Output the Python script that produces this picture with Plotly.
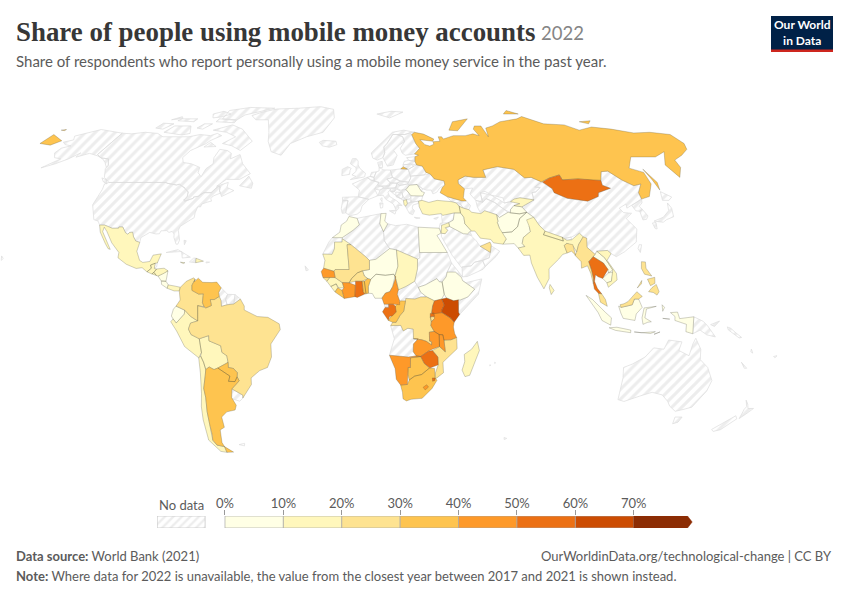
import numpy as np
import plotly.graph_objects as go

# share of respondents per country (%), None = no data
SHARES = {
    "Russia": 35, "Mongolia": 55, "Kenya": 65, "Uganda": 55, "Tanzania": 45, "Rwanda": 50, "Burundi": 25,
    "DR Congo": 25, "Congo": 35, "Gabon": 55, "Cameroon": 45, "Nigeria": 5, "Niger": 5, "Chad": 15,
    "Mali": 25, "Mauritania": 15, "Senegal": 45, "Gambia": 5, "Guinea": 15, "Guinea-Bissau": 25,
    "Sierra Leone": 15, "Liberia": 35, "Ivory Coast": 45, "Burkina Faso": 25, "Ghana": 55, "Togo": 35,
    "Benin": 35, "Morocco": 5, "Tunisia": 5, "Egypt": 5, "South Sudan": 5, "Ethiopia": 5, "Zambia": 45,
    "Malawi": 45, "Mozambique": 25, "Zimbabwe": 55, "Namibia": 45, "Botswana": 35, "South Africa": 35,
    "Lesotho": 45, "Eswatini": 55, "Madagascar": 15, "Mexico": 15, "Guatemala": 15, "Honduras": 15,
    "El Salvador": 15, "Nicaragua": 5, "Costa Rica": 5, "Panama": 15, "Dominican Republic": 15,
    "Jamaica": 15, "Colombia": 25, "Venezuela": 35, "Ecuador": 5, "Peru": 15, "Brazil": 25, "Bolivia": 15,
    "Paraguay": 35, "Chile": 15, "Argentina": 35, "Romania": 5, "Albania": 15, "Turkey": 15, "Jordan": 15,
    "Iraq": 5, "Iran": 15, "UAE": 25, "Kyrgyzstan": 15, "Tajikistan": 5, "Afghanistan": 5, "Pakistan": 5,
    "India": 15, "Nepal": 15, "Bangladesh": 25, "Sri Lanka": 15, "Myanmar": 25, "Thailand": 55, "Laos": 5,
    "Cambodia": 5, "Vietnam": 15, "Malaysia": 25, "Indonesia": 5, "Philippines": 25, "Timor-Leste": 15,
}

BIN_EDGES = [10, 20, 30, 40, 50, 60, 70]
BIN_COLORS = ["#ffffe5", "#fff7bc", "#fee391", "#fec44f", "#fe9929", "#ec7014", "#cc4c02", "#8c2d04"]
LEGEND_TICKS = [0, 10, 20, 30, 40, 50, 60, 70]

# simplified outlines, (lon, lat)
OUTLINES = {
    "USA": [
        [(-124.7,48.4),(-123,49),(-95.2,49),(-94.6,48.7),(-92,48.3),(-89.6,48),(-88.4,48.3),(-84.9,46.9),(-84.5,46.5),(-83.5,45.8),(-82.5,45.3),(-82.1,43.6),(-82.5,42.6),(-83.1,42.1),(-82.4,41.7),(-79,42.8),(-79,43.3),(-76.8,43.6),(-76.3,44.2),(-75,45),(-71.5,45),(-70.8,45.4),(-70,46.7),(-69.2,47.4),(-68.2,47.3),(-67.8,45.7),(-67,44.8),(-70,43.7),(-70.7,42.7),(-70,41.7),(-71.5,41.4),(-74,40.6),(-74.2,39.5),(-75.5,39.5),(-75.9,37.2),(-75.7,35.3),(-77,34.6),(-79,33.4),(-81,32),(-81.4,30.5),(-80.5,28.3),(-80,26.8),(-80.4,25.2),(-81.2,25.2),(-82.7,27.8),(-82.9,29.1),(-84,30.1),(-85.3,29.7),(-86.5,30.4),(-89,30.3),(-89.4,29.2),(-90.9,29.1),(-93.8,29.7),(-95,29),(-97.2,27.7),(-97.2,25.9),(-99.1,26.4),(-100.5,28),(-101.4,29.8),(-102.7,29.7),(-103.3,29),(-104.5,29.6),(-106.5,31.8),(-108.2,31.8),(-108.2,31.3),(-111,31.3),(-114.8,32.5),(-117.1,32.5),(-118.4,34),(-120.6,34.6),(-122,36.9),(-123.8,39.5),(-124.3,40.3),(-124.1,43),(-124,46.3)],
        [(-168,65.6),(-164,66.6),(-166.5,68.3),(-163,69.5),(-156.6,71.3),(-141,69.6),(-141,60.3),(-137.5,58.9),(-133,58.5),(-130,55.9),(-130,55),(-133,57),(-136,58.5),(-140,59.7),(-146,60.8),(-151,59.2),(-151,61),(-154,58.5),(-158,56.5),(-163,54.8),(-158,58.5),(-162,59),(-165,61),(-164.7,63),(-161,64),(-165,64.5)],
        [(-156,20.7),(-155,19.7),(-155.7,19)],
    ],
    "Canada": [
        [(-141,69.6),(-135,69.3),(-128,70),(-120,69.5),(-115,68),(-108,68),(-100,68),(-94.5,69),(-88,68.5),(-85,69.5),(-81.5,68.5),(-86,66.3),(-87,65),(-93,62),(-94.5,59),(-92.5,57),(-88,56.5),(-82.5,55),(-82,52.9),(-79.5,51.3),(-79,54.5),(-76.7,56.5),(-78,59),(-77.5,62.5),(-73,62),(-70,60.8),(-69,58.5),(-65,60.3),(-61.5,56.5),(-55.7,52.5),(-60,50.2),(-66.5,50.2),(-70,47.5),(-65,49),(-64.8,47),(-61,45.8),(-66,43.5),(-67,44.8),(-67.8,45.7),(-68.2,47.3),(-69.2,47.4),(-70,46.7),(-70.8,45.4),(-71.5,45),(-75,45),(-76.3,44.2),(-76.8,43.6),(-79,43.3),(-79,42.8),(-82.4,41.7),(-83.1,42.1),(-82.5,42.6),(-82.1,43.6),(-82.5,45.3),(-83.5,45.8),(-84.5,46.5),(-84.9,46.9),(-88.4,48.3),(-89.6,48),(-92,48.3),(-94.6,48.7),(-95.2,49),(-123,49),(-127,51),(-130,54.5),(-130,55.9),(-133,58.5),(-137.5,58.9),(-141,60.3)],
        [(-62,66),(-66,62),(-72,64),(-78,65),(-73,68),(-80,70),(-89,71),(-80,73.5),(-72,71.5)],
        [(-117,70),(-105,68.8),(-101,69.5),(-105,73),(-115,73)],
        [(-90,76.5),(-80,76),(-78,78.5),(-65,81.5),(-62,82.5),(-80,83),(-92,81)],
        [(-125,72),(-120,71.5),(-117,74),(-124,74.3)],
        [(-92,75),(-80,74.5),(-80,75.7),(-92,76.5)],
        [(-117,75.5),(-106,75),(-106,76.5),(-116,76.5)],
        [(-100,72),(-96,71.5),(-93,74),(-98,74)],
        [(-97,77),(-92,77.5),(-88,79),(-95,80.5),(-100,79)],
        [(-122,76),(-116,76.7),(-118,77.6)],
        [(-59,47.7),(-53,46.7),(-53,48.7),(-56,51.5)],
        [(-128,50.8),(-125,50),(-123.5,48.4),(-126,49.3)],
        [(-87,63.5),(-80.5,63.7),(-85,65.5)],
    ],
    "Greenland": [[(-73,78.2),(-68,80),(-60,82),(-45,82.5),(-30,83.5),(-20,81.8),(-18,77),(-20,74),(-23,70),(-32,68),(-40,65),(-43,60),(-49,61.5),(-53,66),(-55,70),(-60,76),(-68,76)]],
    "Iceland": [[(-24,65.5),(-22,64),(-18,63.4),(-14,64.5),(-14.7,66),(-18,66.2),(-22,66.4)]],
    "Cuba": [[(-85,22),(-80,23.1),(-74.2,20.2),(-77.7,19.9),(-78.3,22.4)]],
    "Haiti": [[(-74.4,18.4),(-72.7,19.9),(-71.7,19.8),(-71.7,18.1)]],
    "Puerto Rico": [[(-67.2,18.4),(-65.7,18.3),(-67.2,18)]],
    "Belize": [[(-89.1,17.9),(-88.2,18.4),(-88.3,16.5),(-89.2,15.9)]],
    "Guyana": [[(-60,8.5),(-57.2,6),(-58,4),(-57.3,2),(-59.7,1.4),(-59.9,3.6),(-60.7,5.2),(-61,6.7)]],
    "Suriname": [[(-57.2,6),(-54,5.9),(-54.5,2.3),(-57.3,2),(-58,4)]],
    "French Guiana": [[(-54,5.9),(-51.7,4.2),(-54.5,2.3)]],
    "Uruguay": [[(-57.6,-30.2),(-53.2,-32.6),(-53.4,-33.7),(-55,-34.9),(-58.4,-34),(-58.4,-33.5)]],
    "Falklands": [[(-61,-51.8),(-58,-51.3),(-58.5,-52.3)]],
    "Spain": [[(-9.2,43.2),(-1.8,43.4),(3.2,42.4),(0,39.8),(-0.7,37.7),(-2.2,36.7),(-5.4,36.1),(-7.4,37.2),(-7,39.6),(-6.5,41.9),(-9,41.9)]],
    "Portugal": [[(-9,41.9),(-6.5,41.9),(-7,39.6),(-7.4,37.2),(-9,37),(-9.5,38.8)]],
    "France": [[(-1.8,43.4),(3.2,42.4),(7.5,43.8),(6,46.4),(8.2,49),(4.2,50),(2.5,51),(-1.5,49.5),(-4.7,48.4),(-1.2,46)],[(8.6,42.6),(9.4,43),(9.3,41.5)]],
    "UK": [[(-5.7,50.1),(1.3,51.2),(1.7,52.7),(-1,54.5),(-2,56),(-2,57.6),(-3,58.6),(-5,58.6),(-6,56.5),(-3,54.9),(-3,53.4),(-5,52),(-3,51.4)]],
    "Ireland": [[(-10,51.7),(-6.2,52.2),(-6,53.8),(-5.5,54.6),(-7.3,55.3),(-10,54.2)]],
    "Belgium": [[(2.5,51),(4.2,50),(6,49.5),(6.1,50.5),(5.9,51),(4,51.4)]],
    "Netherlands": [[(4,51.4),(5.9,51),(7.1,53.2),(4.8,53)]],
    "Germany": [[(5.9,51),(6.1,50.5),(6,49.5),(8.2,49),(7.6,47.6),(13,47.6),(13.8,48.8),(12.2,50.3),(15,51),(14.3,53.9),(11,54),(9.5,54.8),(8.7,54.9),(8.6,53.6),(7.1,53.2)]],
    "Switzerland": [[(6,46.4),(7.6,47.6),(9.6,47.5),(10.4,46.8),(8.6,46)]],
    "Austria": [[(9.6,47.5),(13,47.6),(13.8,48.8),(17,48.7),(16.2,46.9),(10.4,46.8)]],
    "Italy": [[(7.5,43.8),(8.6,46),(10.4,46.8),(13.7,46.5),(12.3,45),(13,43.5),(16,41.9),(18.5,40),(16.5,40),(17,39),(15.7,38),(14.5,40.6),(11,42.5),(10,44)],[(12.5,38),(15.6,38.2),(15,36.7)],[(8.2,41),(9.7,41),(9.5,39.2),(8.5,39)]],
    "Denmark": [[(8.1,57),(10.5,57.5),(10.5,55),(8.7,54.9)]],
    "Norway": [[(5,61),(5.7,58.8),(8,58),(11,59),(12.2,61),(12,63.5),(14,65),(18,69),(25,69),(28.5,69.8),(31,70),(25,71),(18,70),(12,66),(8,63.5)],[(10,79),(20,80.5),(28,80),(18,77)]],
    "Sweden": [[(11,59),(13,55.5),(16,56),(18.7,60),(17.2,62),(21,64.5),(24,65.8),(23.5,68),(20.5,69),(18,69),(14,65),(12,63.5),(12.2,61)]],
    "Finland": [[(20.5,69),(23.5,68),(24,65.8),(21,63),(21.5,61),(23,60),(28,60.5),(31.5,62.9),(30,65),(29,69),(28.5,69.8),(25,69)]],
    "Poland": [[(14.3,53.9),(15,51),(18.8,49.5),(22.7,49.1),(24,50.8),(23.6,52.6),(23.4,54.2),(19.6,54.4)]],
    "Czechia": [[(12.2,50.3),(13.8,48.8),(17,48.7),(18.8,49.5),(15,51)]],
    "Slovakia": [[(17,48.7),(18.8,49.5),(22.5,49.1),(22.1,48.4),(18,47.8)]],
    "Hungary": [[(16.2,46.9),(17,48.7),(18,47.8),(22.1,48.4),(22.9,47.9),(21,46.2),(18.5,45.9),(16.5,46.5)]],
    "Slovenia": [[(13.7,46.5),(16.2,46.9),(15.5,45.5),(13.6,45.5)]],
    "Croatia": [[(13.6,45.5),(15.5,45.5),(16.5,46.5),(19,45.2),(16,43.5),(18.5,42.5),(15,44.5)]],
    "Bosnia": [[(16,45.2),(19,45),(19.2,43.5),(18.5,42.6),(16,43.5)]],
    "Serbia": [[(19,46.1),(21,46.2),(22.5,44.5),(22.8,42.8),(20.7,42.3),(19.2,43.5),(19,45)]],
    "Montenegro": [[(18.5,42.5),(19.2,43.5),(20,42.8),(19.3,41.9)]],
    "Albania": [[(19.3,41.9),(20.7,42.3),(21,40.7),(20,39.7),(19.4,40.4)]],
    "North Macedonia": [[(20.7,42.3),(22.8,42.2),(22.8,41.3),(21,40.9)]],
    "Greece": [[(21,40.7),(22.8,41.3),(26.3,41.7),(26,40.8),(23.5,40.2),(23,39),(24,38),(23,36.5),(21.5,37),(20,39.7)],[(23.6,35.5),(26.2,35.2),(24.5,35)]],
    "Bulgaria": [[(23,43.8),(28.6,43.7),(27.7,42),(26.3,41.7),(22.8,41.3),(22.8,42.8)]],
    "Romania": [[(22.9,47.9),(26.6,48.2),(28.2,45.5),(29.6,45),(28.6,43.7),(23,43.8),(22.5,44.5),(21,46.2)]],
    "Moldova": [[(26.6,48.2),(29,46.5),(28.2,45.5)]],
    "Ukraine": [[(24,50.8),(22.7,49.1),(22.1,48.4),(22.9,47.9),(26.6,48.2),(29,46.5),(30.8,46),(33,46),(33.5,44.5),(35.5,45.2),(37.5,47),(40,48),(40,49.6),(35.5,50.4),(34,52.3),(31,52),(24,51.5)]],
    "Belarus": [[(23.4,54.2),(23.6,52.6),(24,51.5),(31,52),(32,53),(30.8,55.5),(28,56),(26.5,55.5)]],
    "Lithuania": [[(21,56),(21,55.3),(23.4,54.2),(26.5,55.5),(25,56.4)]],
    "Latvia": [[(21,56),(25,56.4),(28,56),(27.5,57.5),(24.4,57.9),(22,57.5)]],
    "Estonia": [[(23.5,59),(28,59.4),(27.5,57.5),(24.4,57.9)]],
    "Georgia": [[(40,43.4),(46.5,41.8),(43.7,41),(41.5,41.5)]],
    "Armenia": [[(43.7,41),(45.2,41),(46.5,39),(44.7,39.7)]],
    "Azerbaijan": [[(45.2,41),(46.5,41.8),(48.5,41.8),(50,40),(48.9,38.4),(46.5,39)]],
    "Cyprus": [[(32.3,35),(34.5,35.6),(33.5,34.7)]],
    "Syria": [[(36,36.9),(42,37.2),(41,34.4),(38.8,33.4),(36,33.3),(35.9,35)]],
    "Israel": [[(34.3,31.3),(35,33.2),(35.8,33.3),(35.5,31),(34.95,29.4)]],
    "Saudi Arabia": [[(34.95,29.4),(36.7,29.2),(38,30.5),(37,31.5),(39,32),(44.7,29.2),(46.5,29.1),(48,28.5),(50,26.5),(51.5,24.4),(55.7,22),(55,20),(52,19),(48.5,18.3),(47,16.9),(43,16.5),(42.7,16.3),(39,21),(35,28)]],
    "Yemen": [[(43,12.7),(45,12.8),(52,15.6),(53,16.6),(52,19),(48.5,18.3),(47,16.9),(43,16.5)]],
    "Oman": [[(55.7,22),(55,20),(52,19),(53,16.6),(58,20.5),(59.8,22.5),(56.5,24.5)]],
    "Kuwait": [[(46.5,29.1),(47.7,30),(48.4,28.5)]],
    "Kazakhstan": [[(47,50),(46.7,48.5),(49,46.5),(53,46.8),(51,44.5),(53,42),(56,41.3),(56,45),(61,44),(66,41),(69,41.5),(71,42.5),(74,43),(80.2,42.2),(80.5,45),(82.5,45.3),(85.5,47),(83,47.2),(87.3,49.2),(83.4,51),(80,50.8),(76.8,54.2),(71,55),(69,55.3),(61,54),(61,51),(55,51),(51,51.5)]],
    "Uzbekistan": [[(56,41.3),(56,45),(58.5,45.5),(61,44),(66,43),(66,41),(69,41.5),(71,42),(73,40.7),(70,40),(68,38.5),(67.5,37.2),(64.5,38.9),(61.5,41.2),(58,42.7)]],
    "Turkmenistan": [[(53,42),(56,41.3),(58,42.7),(61.5,41.2),(64.5,38.9),(66.5,37.4),(62,35.4),(61,36.5),(56,38),(54,36.9),(53,39.5)]],
    "China": [[(73.5,39.5),(80.2,42.2),(80.5,45),(82.5,45.3),(85.5,47),(83,47.2),(87.3,49.2),(91,46.5),(91,45),(96,42.8),(105,41.7),(111,43.5),(112,45),(119,46.7),(116,47.9),(116.7,49.8),(120,53.3),(123.5,53.5),(127,50),(131,47.7),(135,48.4),(131,45),(130.6,42.5),(128,41.5),(124.3,40),(121.5,39),(122,40.6),(118,39),(119,37.3),(122.5,37),(119,35),(122,31),(120,26),(114,22.3),(110,20.4),(108,21.6),(106.7,22.8),(102,22.5),(101,21.3),(98,24),(98.7,27.5),(97.3,28),(96,29.4),(92,27.9),(89,27.4),(88,27.8),(81,30.2),(79,32.5),(77.5,35.5),(75,37.4)]],
    "Bhutan": [[(89,27.4),(92,27.9),(92,26.9),(89.8,26.7)]],
    "Japan": [[(131,34),(136,35.5),(140,38),(141.5,41),(142,39),(140.8,35.7),(137,34.6),(135,33.6)],[(140,42),(141.7,45.4),(145.3,43.3),(143,42)],[(130,33.3),(131.7,33.5),(131,31),(130.2,31.2)]],
    "North Korea": [[(124.3,40),(128,41.5),(130.6,42.5),(129.7,41),(127.5,39.7),(128.3,38.5),(126.7,37.8),(125,38)]],
    "South Korea": [[(126.7,37.8),(128.3,38.5),(129.4,36),(128,34.7),(126.3,34.5)]],
    "Taiwan": [[(121,25),(122,25),(120.8,22),(120.1,23.5)]],
    "Papua New Guinea": [[(141,-2.6),(145,-4.3),(147,-6),(150.8,-10.3),(147,-9.5),(144,-7.7),(141,-9.1)],[(148.3,-5.6),(152,-4.2),(150,-6.3)]],
    "Australia": [[(113.5,-22),(114.2,-26),(115,-34.3),(118,-35),(124,-33),(129,-31.5),(134,-32.5),(137.7,-35),(139.7,-36.8),(143.5,-38.8),(147,-38),(150,-37.2),(153,-31),(153.5,-27),(150,-22),(146,-19),(145.3,-15),(142.5,-10.8),(141.6,-13),(140.8,-17.5),(136,-15.5),(136.8,-12.2),(131,-11.5),(129.5,-15),(125,-14.5),(122,-18),(117,-20.7)],[(145,-41),(148.3,-41),(148,-43),(146,-43.6)]],
    "Western Sahara": [[(-13,27.7),(-8.7,27.7),(-8.7,26),(-12,26),(-12,23.4),(-13,21.3),(-17,21.4),(-14.5,26)]],
    "Algeria": [[(-2.2,35.1),(8.6,36.9),(8,33),(9.5,30),(9.8,26.5),(12,23.5),(6,19.4),(3.2,19),(1.2,20.7),(-4.8,25),(-8.7,27.3),(-8.7,27.7),(-4,30.5),(-1.2,32.6)]],
    "Libya": [[(11.5,33),(15,32.3),(20,32.8),(25,31.7),(25,20),(24,19.5),(15,23),(12,23.5),(9.8,26.5),(9.5,30)]],
    "Sudan": [[(25,22),(37,22),(38.6,18),(36.5,14.5),(36,12.7),(34.2,10.7),(33,10.8),(32,12),(27,9.6),(24,8.7),(22.5,11),(23.8,15.7),(24,19.5),(25,20)]],
    "Eritrea": [[(36.5,14.5),(38.6,18),(43,12.7),(40,14.5)]],
    "Somalia": [[(43,11.2),(44,10.4),(51.2,11.9),(49.5,6),(41.5,-1.7),(41,-0.9),(41,2.8),(41.9,3.9),(45,5),(48,8)]],
    "Central African Republic": [[(15,6),(16,3.5),(18.6,4.4),(22.5,4.2),(25,5),(27.5,5),(25,6.8),(24,8.7),(22.5,11),(18.7,9),(15.5,7.7)]],
    "Angola": [[(12.2,-6),(16.5,-5.9),(17.6,-8),(19.5,-7),(21.8,-7.3),(22,-11),(24,-11),(22,-13),(22,-16),(23.4,-17.6),(20,-18),(11.8,-17.3),(13.8,-11),(13,-8.5)]],
    "Equatorial Guinea": [[(9.4,2.2),(11.3,2.2),(11.3,1),(9.8,1)]],
    "Kerguelen": [[(69,-49),(70.5,-49.3),(69.5,-49.8)]],
    "New Zealand": [[(172.7,-34.5),(174.5,-36),(176,-37.7),(178.5,-37.7),(177,-39.5),(175.3,-41.6),(174.8,-39.8),(174.5,-38),(174.8,-37)],[(172.7,-40.5),(174.3,-41.7),(170.8,-45.9),(168,-46.6),(166.5,-45.8)]],
    "Solomon Islands": [[(155.5,-6.5),(157,-7),(159,-8.5),(162,-10.5),(161,-10.7),(158,-8.8),(156,-7.6)]],
    "Vanuatu": [[(167,-15),(168,-16.5),(167,-16)]],
    "New Caledonia": [[(164,-20),(167,-22.3),(166,-22.3)]],
    "Fiji": [[(177.3,-17.8),(178.7,-17.5),(178,-18.3)]],
    "Cape Verde": [[(-24.5,16.9),(-23,15.3),(-24,15)]],
    "Mauritius": [[(57.3,-20),(57.8,-20.2),(57.4,-20.5)]],
    "Reunion": [[(55.3,-21),(55.8,-21.1),(55.4,-21.4)]],
    "Bahamas": [[(-78,26.7),(-77,26.5),(-77.5,25)]],
    "Russia": [
        [(27.5,57.5),(28,59.4),(30,60),(28,60.5),(31.5,62.9),(30,65),(29,69),(31,70),(36,69.2),(41,67),(40,66),(35,66.5),(33,66.7),(35,64.5),(37.5,63.9),(40,64.7),(40,65.8),(44,66),(44,68),(46,68),(46.5,67),(53,68.5),(60,68.5),(65,69.3),(68,68.5),(67,71.5),(69,73),(73,73),(73,68),(75,72),(80,73),(87,75),(100,76.5),(105,77.7),(113,74),(125,73.5),(130,71),(140,72.5),(150,71.5),(160,69.7),(170,70),(180,69),(180,65),(177,62.5),(170,60),(163.3,58),(162,55),(156.7,51),(155.5,56),(163,61.5),(155,59.3),(142,59.3),(135.5,54.7),(141,53),(140,48.4),(135,43.5),(131,42.6),(130.6,42.5),(131,45),(135,48.4),(131,47.7),(127,50),(123.5,53.5),(120,53.3),(116.7,49.8),(113,49.8),(106,50.4),(98,50),(98,52),(92,50.7),(87.3,49.2),(83.4,51),(80,50.8),(76.8,54.2),(71,55),(69,55.3),(61,54),(61,51),(55,51),(51,51.5),(47,50),(46.7,48.5),(49,46.5),(47.5,43),(48.5,41.8),(46.5,41.8),(40,43.4),(37,45),(38.5,47),(40,48),(40,49.6),(35.5,50.4),(34,52.3),(32,53),(30.8,55.5),(28,56)],
        [(-180,69),(-170,66.2),(-173,64.3),(-180,65)],
        [(-180,71),(-177.5,71.3),(-177.5,70.8)],
        [(142,54.3),(143.5,49),(142,46),(142,50)],
        [(52,71),(57,70.7),(68,76.5),(57,75)],
        [(95,79),(105,79),(100,81)],
        [(137,75),(145,75.5),(141,74)],
        [(19.6,54.4),(23,54.3),(21,55.3)],
    ],
    "Mongolia": [[(87.8,49.2),(92,50.7),(98,52),(98,50),(106,50.4),(113,49.8),(116.7,49.8),(116,47.9),(119,46.7),(112,45),(111,43.5),(105,41.7),(96,42.8),(91,45),(91,46.5)]],
    "Mexico": [[(-117.1,32.5),(-114.8,32.5),(-111,31.3),(-108.2,31.3),(-108.2,31.8),(-106.5,31.8),(-104.5,29.6),(-103.3,29),(-102.7,29.7),(-101.4,29.8),(-100.5,28),(-99.1,26.4),(-97.2,25.9),(-97.8,22.5),(-96,19),(-94.5,18.2),(-91.5,18.6),(-90.5,21),(-87,21.5),(-87.5,19.5),(-88.2,18),(-89.1,17.9),(-91,17.2),(-90.5,16),(-92.2,14.6),(-94.5,16.2),(-97,15.9),(-101.5,17.5),(-105.5,20),(-105.5,22),(-109.4,25.7),(-112.8,30),(-114.7,31.7),(-114.7,30),(-109.5,23.2),(-110.5,23.5),(-112.2,25.5),(-115.7,29.8)]],
    "Guatemala": [[(-92.2,14.6),(-90.5,16),(-91,17.2),(-89.1,17.9),(-89.2,15.9),(-88.2,15.7),(-89.2,14.4),(-90,13.8)]],
    "Honduras": [[(-89.2,14.4),(-88.2,15.7),(-85,16),(-83.2,15),(-85,14),(-87.3,13),(-88,13.2)]],
    "El Salvador": [[(-90,13.8),(-89.2,14.4),(-88,13.2)]],
    "Nicaragua": [[(-87.3,13),(-85,14),(-83.2,15),(-83.7,11),(-85.7,11.1)]],
    "Costa Rica": [[(-85.7,11.1),(-83.7,11),(-82.6,9.6),(-83,8.3),(-85.5,9.8)]],
    "Panama": [[(-83,8.3),(-82.6,9.6),(-80,9.2),(-77.4,8.7),(-77.8,7.3),(-80,7.3)]],
    "Dominican Republic": [[(-71.7,19.8),(-68.4,18.7),(-71.7,18.1)]],
    "Jamaica": [[(-78.3,18.3),(-76.3,18.1),(-77,17.8)]],
    "Colombia": [[(-77.4,8.7),(-75,11),(-72,12.3),(-71.3,11.8),(-72.5,9.5),(-72.4,7.5),(-69.5,6.1),(-67.5,6.2),(-67.8,2.8),(-67,1.2),(-69.8,1.7),(-69.8,-4.2),(-70.5,-3.8),(-72.9,-2.4),(-75.2,-0.1),(-77.6,0.8),(-79,1.5),(-77.3,3.8),(-77.8,7.3)]],
    "Venezuela": [[(-71.3,11.8),(-71.6,10.8),(-70,12.2),(-68,10.6),(-64,10.5),(-62,10.7),(-60,8.5),(-61,6.7),(-60.7,5.2),(-62.8,4),(-64.5,4),(-64,1.7),(-66.3,0.8),(-67,1.2),(-67.8,2.8),(-67.5,6.2),(-69.5,6.1),(-72.4,7.5),(-72.5,9.5)]],
    "Ecuador": [[(-75.2,-0.1),(-77.6,0.8),(-79,1.5),(-80.1,0.3),(-81,-2.3),(-80.3,-3.4),(-79,-5),(-75.5,-1.6)]],
    "Peru": [[(-69.9,-4.2),(-72.9,-2.4),(-75.2,-0.1),(-75.5,-1.6),(-79,-5),(-80.3,-3.4),(-81.3,-4.5),(-79,-8),(-76,-14),(-70.4,-18.3),(-69,-16.3),(-69.5,-11),(-72.9,-9.4),(-73.9,-7.3),(-72.9,-5)]],
    "Brazil": [[(-51.7,4.2),(-50,1.5),(-50,0),(-48,-0.8),(-44.5,-2.5),(-40,-2.8),(-35.2,-5.3),(-34.8,-7.5),(-39,-13),(-39,-18),(-41,-22),(-44.5,-23.2),(-48.5,-26),(-48.7,-28.5),(-52,-32.2),(-53.4,-33.7),(-53.2,-32.6),(-57.6,-30.2),(-53.9,-27.1),(-54.6,-25.6),(-54.3,-24),(-55.8,-22.4),(-58,-22),(-57.9,-20),(-58.2,-17.5),(-60.2,-16.2),(-60.5,-13.7),(-65.4,-11.8),(-65.4,-9.8),(-69.5,-11),(-72.9,-9.4),(-73.9,-7.3),(-72.9,-5),(-69.9,-4.2),(-69.8,1.7),(-67,1.2),(-66.3,0.8),(-64,1.7),(-64.5,4),(-62.8,4),(-60.7,5.2),(-59.9,3.6),(-59.7,1.4),(-57.3,2),(-54.5,2.3)]],
    "Bolivia": [[(-69.5,-11),(-65.4,-9.8),(-65.4,-11.8),(-60.5,-13.7),(-60.2,-16.2),(-58.2,-17.5),(-57.9,-20),(-58.2,-20.2),(-62.6,-22.2),(-64.3,-22.8),(-66.3,-21.8),(-67.9,-22.8),(-68.5,-20),(-69.5,-17.6),(-69,-16.3)]],
    "Paraguay": [[(-58.2,-20.2),(-57.9,-20),(-58,-22),(-55.8,-22.4),(-54.3,-24),(-54.6,-25.6),(-55.8,-27.4),(-58.6,-27.3),(-57.7,-25.3),(-62.6,-22.2)]],
    "Chile": [[(-70.4,-18.3),(-69.5,-17.6),(-68.5,-20),(-67.9,-22.8),(-68.4,-25),(-70,-30),(-70,-33.5),(-71,-39),(-71.7,-44),(-72.3,-48),(-73,-50),(-72,-52),(-68.6,-52.6),(-68.6,-54.9),(-71.5,-54.5),(-75,-50),(-74,-42),(-73,-37),(-71.5,-32),(-70.4,-24)]],
    "Argentina": [[(-67.9,-22.8),(-66.3,-21.8),(-64.3,-22.8),(-62.6,-22.2),(-57.7,-25.3),(-58.6,-27.3),(-55.8,-27.4),(-54.6,-25.6),(-53.9,-27.1),(-57.6,-30.2),(-58.4,-33.5),(-57,-36.5),(-58,-38.3),(-62,-39),(-65,-41),(-65.2,-45),(-67.6,-46),(-69,-51),(-68.6,-52.6),(-72,-52),(-73,-50),(-72.3,-48),(-71.7,-44),(-71,-39),(-70,-33.5),(-70,-30),(-68.4,-25)],[(-68.6,-52.6),(-65.2,-54.8),(-68.6,-54.9)]],
    "Turkey": [[(26.3,41.7),(28,42),(31,41.2),(35,42),(41.5,41.5),(43.7,41),(44.7,39.7),(44.8,37.2),(42,37.2),(36.5,36.2),(36,36.9),(30.5,36.3),(27.5,36.8),(26.3,39.5)]],
    "Jordan": [[(34.95,29.4),(35.5,32.4),(38.8,33.4),(39,32),(37,31.5),(38,30.5),(36.7,29.2)]],
    "Iraq": [[(42,37.2),(44.8,37.2),(46,35.5),(46,33),(48.5,30.2),(47.7,30),(46.5,29.1),(44.7,29.2),(39,32),(38.8,33.4),(41,34.4)]],
    "Iran": [[(44.8,37.2),(44.7,39.7),(46.5,39),(48.9,38.4),(50,37.4),(54,36.9),(56,38),(61,36.5),(61,34),(60.6,33.5),(61,31.5),(63.3,27.2),(61.6,25.2),(57.5,25.7),(56.5,27),(52,27.5),(50,30.2),(48.5,30.2),(46,33),(46,35.5)]],
    "UAE": [[(51.5,24.4),(56,26),(56.4,24.9),(55.7,22)]],
    "Kyrgyzstan": [[(69,41.5),(71,42.5),(74,43),(80.2,42.2),(73.5,39.5),(70,40),(73,40.7)]],
    "Tajikistan": [[(68,38.5),(70,40),(73.5,39.5),(75,37.4),(71.5,36.8),(67.5,37.2)]],
    "Afghanistan": [[(61,36.5),(62,35.4),(66.5,37.4),(67.5,37.2),(71.5,36.8),(75,37.4),(71,35),(69.3,31.9),(66.3,29.9),(61,29.5),(61,31.5),(60.6,33.5),(61,34)]],
    "Pakistan": [[(61,29.5),(66.3,29.9),(69.3,31.9),(71,35),(75,37.4),(77.5,35.5),(74.5,32),(74.5,30),(71,27.8),(70,25.5),(71,24.3),(68,23.7),(66.5,25.4),(61.6,25.2),(63.3,27.2)]],
    "India": [[(74.5,32),(74,34.5),(77.5,35.5),(79,32.5),(81,30.2),(80,28.8),(88.2,26.4),(88,27.8),(89.8,26.7),(92,26.9),(96,29.4),(97.3,28),(94.5,25),(93.2,22.2),(92,24.5),(89.5,25.5),(88.2,24.7),(89,21.8),(87,21.3),(85,19.5),(80.3,15.8),(80,12),(77.5,8.1),(75,12.5),(73,18),(72.7,21),(70,20.9),(69,22.3),(68,23.7),(71,24.3),(70,25.5),(71,27.8),(74.5,30)]],
    "Nepal": [[(80,28.8),(81,30.2),(88.2,27.8),(88.2,26.4)]],
    "Bangladesh": [[(88.2,24.7),(89.5,25.5),(92,25),(92.5,21),(91,22.5),(89,21.8)]],
    "Sri Lanka": [[(79.8,8.5),(80.2,9.8),(81.8,7.5),(80.5,5.9)]],
    "Myanmar": [[(92.2,21),(93.2,22.2),(94.5,25),(97.3,28),(98.7,27.5),(98,24),(101,21.3),(100,20.4),(97.8,18.5),(98.5,15.3),(99,12),(98.7,10),(98,14),(97,16.9),(94.3,16),(94.5,18.5)]],
    "Thailand": [[(100,20.4),(101.2,19.6),(104,18),(105.6,15.5),(102.9,12.1),(101,12.7),(100,13.5),(99.3,11),(100.3,8.3),(102,6.2),(100.6,6.4),(99,8),(98.7,10),(99,12),(98.5,15.3),(97.8,18.5)]],
    "Laos": [[(101,21.3),(102,22.5),(104.9,20),(107.6,15.3),(105.6,14.2),(105.6,15.5),(104,18),(101.2,19.6),(100,20.4)]],
    "Cambodia": [[(102.9,12.1),(105.6,14.2),(107.6,14.5),(106.5,11),(104.5,10.4)]],
    "Vietnam": [[(102,22.5),(106.7,22.8),(108,21.6),(105.8,19),(109,14),(109,11.5),(105,8.7),(104.5,10.4),(106.5,11),(107.6,14.5),(107.6,15.3),(104.9,20)]],
    "Malaysia": [[(100.6,6.4),(102,6.2),(103.5,4),(104.2,1.4),(101.3,3)],[(109.6,2),(111.3,2.4),(113,3.2),(115,5),(117,7),(119.2,5.2),(117.6,4.2),(115.8,4.2),(114.8,2),(112.5,1.5),(110,1)]],
    "Indonesia": [[(95.3,5.6),(98,4),(103.5,-1),(106,-3),(105.8,-5.8),(102,-4),(100.3,-1),(97,3)],[(105.2,-6.8),(108.5,-6.6),(114.5,-7.7),(114.5,-8.7),(108,-7.8)],[(109,1.5),(110,1),(112.5,1.5),(114.8,2),(115.8,4.2),(117.6,4.2),(119,1),(116.5,-1.5),(116,-4),(111,-3.2),(110,-1.3)],[(119.8,0.8),(125,1.4),(120.8,0.4),(120.2,-3),(123,-4.5),(121.5,-4.7),(119.5,-5.5),(119,-3)],[(131,-1),(134,-0.8),(135,-3.3),(141,-2.6),(141,-9.1),(138,-8.3),(138,-5.5),(133,-4),(133,-2.5)],[(116,-8.4),(119,-8.7),(125,-8.3),(123,-9)],[(127.5,2),(128.5,1),(127.7,-0.5)],[(127.8,-3.2),(130.8,-3.5),(128,-3.5)]],
    "Philippines": [[(120.5,18.5),(122.2,18.4),(122,16),(124,13),(121,13.7),(120,15.9)],[(122,7),(123.6,8.6),(125.5,9.8),(126.5,7),(125.5,5.7),(124,6.7)],[(122,11.8),(125.2,12.5),(125,10.2),(123,9.3)],[(117.3,8.4),(119.5,11.3),(119.2,10)]],
    "Timor-Leste": [[(124.5,-9.3),(127,-8.4),(125,-9.4)]],
    "Morocco": [[(-5.9,35.8),(-2.2,35.1),(-1.2,32.6),(-4,30.5),(-8.7,27.7),(-13,27.7),(-9.8,29.8),(-9.3,32.5),(-6.9,34)]],
    "Tunisia": [[(8.6,36.9),(11,37),(10.2,34),(11.5,33),(9.5,30),(8,33)]],
    "Egypt": [[(25,31.7),(31,31.5),(34.3,31.3),(34.9,29.5),(33,28.5),(34,27),(37,22),(25,22)]],
    "South Sudan": [[(24,8.7),(27,9.6),(32,12),(33,10.8),(34.2,10.7),(35,6),(33.9,4.2),(30.8,3.5),(27.5,5),(25,6.8)]],
    "Ethiopia": [[(36,12.7),(36.5,14.5),(40,14.5),(42.5,12.5),(43,11.2),(48,8),(45,5),(41.9,3.9),(39,3.5),(35.9,4.6),(35,6),(34.2,10.7)]],
    "Kenya": [[(33.9,4.2),(35.9,4.6),(39,3.5),(41,3.9),(41,-0.9),(41.5,-1.7),(39.2,-4.7),(37.7,-3.1),(34,-1),(34,0.2),(35,1.9)]],
    "Uganda": [[(30.8,3.5),(33.9,4.2),(35,1.9),(34,0.2),(34,-1),(30,-1.5),(29.6,-1),(30,1.5)]],
    "Tanzania": [[(30,-1),(34,-1),(37.7,-3.1),(39.2,-4.7),(38.9,-6.5),(39.5,-9),(40.4,-10.5),(38,-11.4),(35,-11.5),(34.5,-9.5),(32.9,-9.4),(30.8,-8.2),(29.3,-6),(29.5,-4.5),(30.8,-3.3)]],
    "Rwanda": [[(29,-1.3),(30.5,-1.1),(30.8,-2.4),(29,-2.7)]],
    "Burundi": [[(29,-2.7),(30.8,-2.4),(30.8,-3.3),(29.5,-4.5)]],
    "DR Congo": [[(12.2,-6),(13,-4.7),(14.5,-4.7),(16.2,-2),(17.7,-0.5),(18.5,3.5),(18.6,4.4),(22.5,4.2),(25,5),(27.5,5),(30.8,3.5),(30,1.5),(29.6,-1),(29,-2.7),(29.5,-4.5),(29.3,-6),(30.8,-8.2),(28.7,-8.5),(28.9,-11.9),(29.8,-12.2),(29.8,-13.4),(27.5,-12),(25.5,-11.4),(22,-11),(21.8,-7.3),(19.5,-7),(17.6,-8),(16.5,-5.9)]],
    "Congo": [[(11.2,-4),(13,-4.7),(14.5,-4.7),(16.2,-2),(17.7,-0.5),(18.5,3.5),(16.5,3.5),(14,1.4),(14.5,-0.8),(13,-2.2),(12.3,-2.5)]],
    "Gabon": [[(8.7,-0.7),(9.8,1),(11.3,1),(11.3,2.2),(13.3,2.2),(14.2,1.4),(14.5,-0.8),(13,-2.2),(11.7,-2.5),(11.2,-4)]],
    "Cameroon": [[(8.5,4.5),(9.4,2.2),(13.3,2.2),(16,2),(16,3.5),(15,6),(15.5,7.7),(15,10),(14.1,13),(14.5,12.7),(13.1,9),(11.8,7),(10,6.5),(8.8,5)]],
    "Nigeria": [[(2.7,6.4),(4.4,6.3),(5.5,4.5),(8.5,4.5),(8.8,5),(10,6.5),(11.8,7),(13.1,9),(14.1,12.9),(13.6,13.7),(10,13.3),(6,13.7),(3.7,11.7),(2.7,9)]],
    "Niger": [[(3.7,11.7),(6,13.7),(10,13.3),(13.6,13.7),(14.1,13),(15.5,16.8),(15,23),(12,23.5),(6,19.4),(3.2,19),(3.2,15.5),(0.2,15),(1,13),(2.5,12)]],
    "Chad": [[(15,23),(24,19.5),(23.8,15.7),(22.5,11),(18.7,9),(15.5,7.7),(15,10),(14.1,13),(15.5,16.8)]],
    "Mali": [[(-12,14.8),(-11.5,12.4),(-8.4,10.5),(-5.5,10.4),(-4.5,12),(-2,14.2),(0.2,15),(3.2,15.5),(3.2,19),(1.2,20.7),(-4.8,25),(-6.5,25),(-5.5,15.5),(-11.5,15.5)]],
    "Mauritania": [[(-17,21.4),(-13,21.3),(-12,23.4),(-12,26),(-8.7,26),(-8.7,27.3),(-4.8,25),(-6.5,25),(-5.5,15.5),(-11.5,15.5),(-12,14.8),(-16.5,16),(-16,19)]],
    "Senegal": [[(-17.5,14.7),(-16.5,16),(-12,14.8),(-11.5,12.4),(-16.7,12.4)]],
    "Gambia": [[(-16.8,13.6),(-14,13.6),(-14,13.2),(-16.8,13.2)]],
    "Guinea-Bissau": [[(-16.7,12.4),(-13.7,12.6),(-15,11)]],
    "Guinea": [[(-15,11),(-13.7,12.6),(-11.5,12.4),(-8.4,10.5),(-7.7,8.5),(-10,8.5),(-11,10),(-13.3,9)]],
    "Sierra Leone": [[(-13.3,9),(-11,10),(-10.3,8.5),(-11.5,6.9)]],
    "Liberia": [[(-11.5,6.9),(-10.3,8.5),(-8.5,7.6),(-7.5,4.4)]],
    "Ivory Coast": [[(-8.5,7.6),(-7.7,8.5),(-8.4,10.5),(-5.5,10.4),(-2.8,9.5),(-3,5.1),(-7.5,4.4)]],
    "Burkina Faso": [[(-5.5,10.4),(-4.5,12),(-2,14.2),(0.2,15),(1,13),(2.5,12),(0,11),(-2.8,11)]],
    "Ghana": [[(-2.8,11),(0,11),(0.5,7),(1.2,6.1),(-2,4.8),(-3,5.1),(-2.8,9.5)]],
    "Togo": [[(0,11),(1,11),(1.7,6.2),(1.2,6.1),(0.5,7)]],
    "Benin": [[(1,11),(2.5,12),(3.7,11.7),(2.7,9),(2.7,6.4),(1.7,6.2)]],
    "Zambia": [[(22,-11),(25.5,-11.4),(27.5,-12),(29.8,-13.4),(29.8,-12.2),(28.9,-11.9),(28.7,-8.5),(30.8,-8.2),(32.9,-9.4),(33.2,-14),(30.2,-15),(28.5,-15.8),(25.3,-17.8),(23.4,-17.6),(22,-16),(22,-13),(24,-11)]],
    "Malawi": [[(32.9,-9.4),(34.5,-9.5),(35,-11.5),(35.8,-16),(34.5,-15),(33.2,-14)]],
    "Mozambique": [[(40.4,-10.5),(40.8,-14.8),(35,-20),(35.5,-24),(32.9,-25.9),(31.9,-26.5),(32,-24),(33,-21),(32.7,-18),(30.2,-15.5),(33.2,-14),(34.5,-15),(35.8,-16),(35,-11.5),(38,-11.4)]],
    "Zimbabwe": [[(25.3,-17.8),(28.5,-15.8),(30.2,-15.5),(32.7,-18),(33,-21),(29.5,-22.2),(27,-20.5)]],
    "Namibia": [[(11.8,-17.3),(20,-18),(23.4,-17.6),(25.3,-17.8),(20.9,-18.3),(21,-22),(20,-22),(20,-28.5),(17,-28.7),(15,-26.5),(14.4,-22.5)]],
    "Botswana": [[(20.9,-18.3),(25.3,-17.8),(27,-20.5),(29.3,-22.2),(26,-24.7),(23,-25.3),(20.7,-26.8),(20,-24.7),(20,-22),(21,-22)]],
    "South Africa": [[(17,-28.7),(20,-28.5),(20.7,-26.8),(23,-25.3),(26,-24.7),(29.3,-22.2),(31.5,-22.4),(32,-26),(32.9,-26.9),(31,-30),(27,-33.8),(22,-34.2),(20,-34.8),(18.4,-34),(18,-31.5)]],
    "Lesotho": [[(27,-29.6),(28.5,-28.6),(29.4,-29.5),(28,-30.6)]],
    "Eswatini": [[(30.8,-26),(32,-26),(32,-27),(31,-27.3)]],
    "Madagascar": [[(49.3,-12),(50.4,-15.5),(47,-25),(45,-25.5),(43.5,-23),(44.4,-19.8),(44,-17),(47,-15)]],
}

# Robinson projection table, every 5 degrees
ROB_LAT = np.arange(0, 95, 5)
ROB_X = [1, .9986, .9954, .99, .9822, .973, .96, .9427, .9216, .8962, .8679, .835, .7986, .7597, .7186, .6732, .6213, .5722, .5322]
ROB_Y = [0, .062, .124, .186, .248, .31, .372, .434, .4958, .5571, .6176, .6769, .7346, .7903, .8435, .8936, .9394, .9761, 1]


def robinson(lon, lat):
    x = 0.8487 * np.radians(lon) * np.interp(abs(lat), ROB_LAT, ROB_X)
    y = 1.3523 * np.sign(lat) * np.interp(abs(lat), ROB_LAT, ROB_Y)
    return x, y


def outline_xy(names):
    xs, ys = [], []
    for name in names:
        for poly in OUTLINES[name]:
            for lon, lat in poly + poly[:1]:
                x, y = robinson(lon, lat)
                xs.append(float(x))
                ys.append(float(y))
            xs.append(None)
            ys.append(None)
    return xs, ys


fig = go.Figure()

# countries without data
no_data = [n for n in OUTLINES if SHARES.get(n) is None]
xs, ys = outline_xy(no_data)
fig.add_trace(go.Scatter(
    x=xs, y=ys, mode="lines", fill="toself", hoverinfo="skip",
    line=dict(color="#dddddd", width=0.7),
    fillcolor="white",
    fillpattern=dict(shape="/", fgcolor="#dcdcdc", bgcolor="white", size=7, solidity=0.45),
))

# countries with data, one trace per colour bin
bins = {i: [] for i in range(len(BIN_COLORS))}
for name in OUTLINES:
    if SHARES.get(name) is not None:
        bins[int(np.digitize(SHARES[name], BIN_EDGES))].append(name)
for i, color in enumerate(BIN_COLORS):
    if bins[i]:
        xs, ys = outline_xy(bins[i])
        fig.add_trace(go.Scatter(
            x=xs, y=ys, mode="lines", fill="toself", fillcolor=color, hoverinfo="skip",
            line=dict(color="rgba(80,80,60,0.38)", width=0.7),
        ))

# legend
fig.add_trace(go.Bar(
    x=[10] * 7, y=[0.5] * 7, base=LEGEND_TICKS[:7], width=1, orientation="h",
    marker=dict(color=BIN_COLORS[:7], line=dict(color="#a8a8a8", width=0.7)),
    xaxis="x2", yaxis="y2", hoverinfo="skip",
))
fig.add_trace(go.Scatter(
    x=[70, 79.2, 80, 79.2, 70, 70], y=[0, 0, 0.5, 1, 1, 0], mode="lines", fill="toself",
    fillcolor=BIN_COLORS[7], line=dict(color=BIN_COLORS[7], width=0.5),
    xaxis="x2", yaxis="y2", hoverinfo="skip",
))
fig.add_trace(go.Scatter(
    x=[-11.6, -3.4, -3.4, -11.6, -11.6], y=[0, 0, 1, 1, 0], mode="lines", fill="toself", fillcolor="white",
    fillpattern=dict(shape="/", fgcolor="#dcdcdc", bgcolor="white", size=6, solidity=0.4),
    line=dict(color="#c8c8c8", width=0.8), xaxis="x2", yaxis="y2", hoverinfo="skip",
))

GREY = "#5b5b5b"
SANS = "Lato"


def label(text, x, y, size=13, color=GREY, family=SANS, anchor="left"):
    fig.add_annotation(text=text, x=x / 850, y=1 - y / 600, xref="paper", yref="paper", showarrow=False,
                       xanchor=anchor, yanchor="middle", align=anchor, borderpad=0, borderwidth=0,
                       font=dict(family=family, size=size, color=color))


label("<b>Share of people using mobile money accounts</b>", 16, 32, 26.9, "#373737", "Liberation Serif")
label("2022", 541, 33, 18.5, "#858585")
label("Share of respondents who report personally using a mobile money service in the past year.", 16, 61, 15)
label("No data", 181, 505, 13, GREY, SANS, "center")
label("<b>Data source:</b> World Bank (2021)", 16, 556, 13)
label("OurWorldinData.org/technological-change | CC BY", 832, 556, 13, GREY, SANS, "right")
label("<b>Note:</b> Where data for 2022 is unavailable, the value from the closest year between 2017 and 2021 is shown instead.", 16, 576, 13)
label("<b>Our World<br>in Data</b>", 802, 32, 12, "white", SANS, "center")

X_SCALE = 159.0
Y_SCALE = 155.8
fig.update_layout(
    width=850, height=600, margin=dict(l=0, r=0, t=0, b=0), showlegend=False,
    paper_bgcolor="white", plot_bgcolor="white", barmode="overlay",
    xaxis=dict(range=[(0 - 362) / X_SCALE, (850 - 362) / X_SCALE], visible=False, domain=[0, 1]),
    yaxis=dict(range=[(310 - 600) / Y_SCALE, (310 - 0) / Y_SCALE], visible=False, domain=[0, 1]),
    xaxis2=dict(domain=[157 / 850, 693 / 850], range=[-11.64, 80.14], side="top", anchor="y2",
                tickvals=LEGEND_TICKS, ticktext=[f"{t}%" for t in LEGEND_TICKS], ticks="outside", ticklen=5,
                ticklabelstandoff=-3, tickcolor="#999999", tickwidth=1,
                tickfont=dict(family=SANS, size=13, color=GREY),
                showgrid=False, zeroline=False, showline=False),
    yaxis2=dict(domain=[72 / 600, 84 / 600], range=[0, 1], visible=False, anchor="x2"),
    shapes=[
        dict(type="rect", xref="paper", yref="paper", x0=771 / 850, x1=833 / 850, y0=1 - 52 / 600, y1=1 - 16 / 600,
             fillcolor="#002147", line_width=0),
        dict(type="rect", xref="paper", yref="paper", x0=771 / 850, x1=833 / 850, y0=1 - 52 / 600, y1=1 - 49.5 / 600,
             fillcolor="#ce261e", line_width=0),
    ],
)

# the page's default body margin would push the chart off by 8px
fig.write_html("out.html", config=dict(displayModeBar=False), post_script="document.body.style.margin = '0';")
